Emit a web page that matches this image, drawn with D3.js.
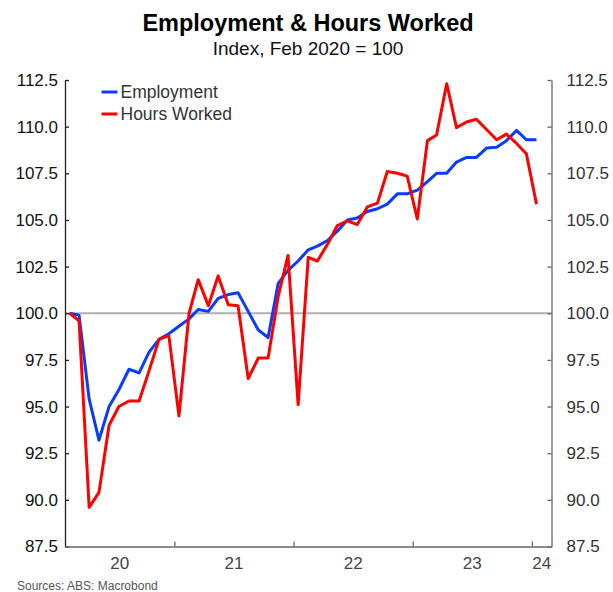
<!DOCTYPE html>
<html>
<head>
<meta charset="utf-8">
<script src="https://cdn.jsdelivr.net/npm/d3@7"></script>
<style>
  body { margin: 0; background: #fff; }
  text { font-family: "Liberation Sans", Arial, sans-serif; }
</style>
</head>
<body>
<div id="vis"></div>
<script>
// frame
const FRAME_WIDTH = 613;
const FRAME_HEIGHT = 592;
const PLOT = {left: 65, right: 551.5, top: 80, bottom: 546.5};

// data: monthly, Feb 2020 to Jan 2024
const START_MONTH = "2020-02";
const employment = [
  100.0, 99.9, 95.4, 93.2, 95.0, 95.9, 97.0, 96.8, 97.9, 98.6, 98.9,
  99.3, 99.7, 100.2, 100.1, 100.8, 101.0, 101.1, 100.1, 99.1, 98.7, 101.6, 102.3,
  102.8, 103.4, 103.6, 103.9, 104.4, 105.0, 105.1, 105.45, 105.6, 105.85, 106.4, 106.4,
  106.6, 107.05, 107.5, 107.5, 108.1, 108.35, 108.35, 108.85, 108.9, 109.25, 109.8, 109.3,
  109.3
];
const hoursWorked = [
  100.0, 99.6, 89.6, 90.4, 94.0, 95.0, 95.3, 95.3, 96.9, 98.6, 98.8,
  94.5, 100.0, 101.8, 100.4, 102.0, 100.45, 100.4, 96.5, 97.6, 97.6, 100.9, 103.1,
  95.1, 103.0, 102.8, 103.7, 104.7, 104.95, 104.75, 105.7, 105.9, 107.6, 107.5, 107.35,
  105.05, 109.25, 109.55, 112.3, 109.95, 110.25, 110.4, 109.85, 109.3, 109.6, 109.1, 108.55,
  105.85
];
const yTicks = [87.5, 90, 92.5, 95, 97.5, 100, 102.5, 105, 107.5, 110, 112.5];
const yearLabels = ["20", "21", "22", "23", "24"];
const seriesNames = ["Employment", "Hours Worked"];
const seriesColors = ["#0a3cff", "#ff0000"];

// month dates, plotted mid-month
const parseMonth = d3.timeParse("%Y-%m");
const start = parseMonth(START_MONTH);
const dates = employment.map((d, i) => d3.timeDay.offset(d3.timeMonth.offset(start, i), 14));

const svg = d3.select("#vis")
  .append("svg")
    .attr("width", FRAME_WIDTH)
    .attr("height", FRAME_HEIGHT);

// scales
const X_SCALE = d3.scaleTime()
  .domain([start, new Date(2024, 2, 1)])
  .range([PLOT.left, PLOT.right]);

const Y_SCALE = d3.scaleLinear()
  .domain([87.5, 112.5])
  .range([PLOT.bottom, PLOT.top]);

// titles
svg.append("text")
  .attr("x", 308).attr("y", 31)
  .attr("text-anchor", "middle")
  .attr("font-size", "23.5px").attr("font-weight", "bold")
  .attr("fill", "#000")
  .text("Employment & Hours Worked");

svg.append("text")
  .attr("x", 308).attr("y", 55)
  .attr("text-anchor", "middle")
  .attr("font-size", "19px")
  .attr("fill", "#111")
  .text("Index, Feb 2020 = 100");

// 100 reference line
svg.append("line")
  .attr("x1", PLOT.left).attr("x2", PLOT.right)
  .attr("y1", Y_SCALE(100)).attr("y2", Y_SCALE(100))
  .attr("stroke", "#b0b0b0").attr("stroke-width", 2);

// left axis
const leftAxis = svg.append("g")
  .attr("transform", "translate(" + PLOT.left + ",0)")
  .call(d3.axisLeft(Y_SCALE).tickValues(yTicks).tickFormat(d3.format(".1f"))
    .tickSizeInner(-4).tickSizeOuter(0).tickPadding(7));
leftAxis.selectAll("path, line").attr("stroke", "#222").attr("stroke-width", 1.3);
leftAxis.selectAll("text").attr("font-size", "17px").attr("fill", "#111")
  .style("font-family", "'Liberation Sans', Arial, sans-serif");

// right axis
const rightAxis = svg.append("g")
  .attr("transform", "translate(" + PLOT.right + ",0)")
  .call(d3.axisRight(Y_SCALE).tickValues(yTicks).tickFormat(d3.format(".1f"))
    .tickSizeInner(-4).tickSizeOuter(0).tickPadding(15));
rightAxis.selectAll("path, line").attr("stroke", "#666").attr("stroke-width", 1.3);
rightAxis.selectAll("text").attr("font-size", "17px").attr("fill", "#333")
  .style("font-family", "'Liberation Sans', Arial, sans-serif");

// bottom axis: year ticks, labels centred in each visible year
const yearStarts = d3.timeYear.range(new Date(2021, 0, 1), new Date(2024, 0, 2));
const bottomAxis = svg.append("g")
  .attr("transform", "translate(0," + PLOT.bottom + ")")
  .call(d3.axisBottom(X_SCALE).tickValues(yearStarts).tickFormat("")
    .tickSizeInner(-5).tickSizeOuter(0));
bottomAxis.selectAll("path, line").attr("stroke", "#666").attr("stroke-width", 1.3);

const bounds = [X_SCALE.domain()[0]].concat(yearStarts, [X_SCALE.domain()[1]]);
svg.append("g").selectAll("text")
  .data(yearLabels)
  .enter()
  .append("text")
    .attr("x", (d, i) => (X_SCALE(bounds[i]) + X_SCALE(bounds[i + 1])) / 2)
    .attr("y", 568.5)
    .attr("text-anchor", "middle")
    .attr("font-size", "17px")
    .attr("fill", "#444")
    .text((d) => d);

// lines
const line = d3.line()
  .x((d, i) => X_SCALE(dates[i]))
  .y((d) => Y_SCALE(d));

[employment, hoursWorked].forEach((s, i) => {
  svg.append("path")
    .datum(s)
    .attr("d", line)
    .attr("fill", "none")
    .attr("stroke", seriesColors[i])
    .attr("stroke-width", 3)
    .attr("stroke-linejoin", "round");
});

// legend
const legend = svg.append("g");
seriesNames.forEach((name, i) => {
  const y = 92 + i * 22;
  legend.append("line")
    .attr("x1", 101.5).attr("x2", 117.5)
    .attr("y1", y).attr("y2", y)
    .attr("stroke", seriesColors[i]).attr("stroke-width", 3);
  legend.append("text")
    .attr("x", 120.5).attr("y", y + 6)
    .attr("font-size", "17.5px")
    .attr("fill", "#333")
    .text(name);
});

// source
svg.append("text")
  .attr("x", 17).attr("y", 590)
  .attr("font-size", "12px")
  .attr("fill", "#555")
  .text("Sources: ABS: Macrobond");
</script>
</body>
</html>
